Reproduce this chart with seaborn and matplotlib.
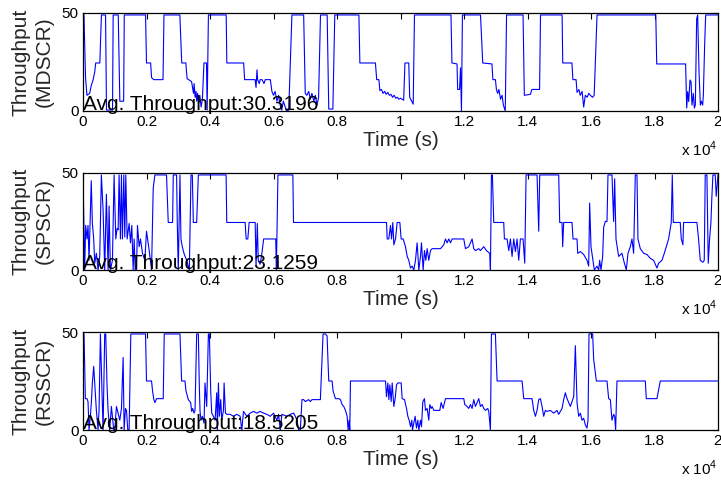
import matplotlib
matplotlib.use("Agg")
import matplotlib.pyplot as plt
import seaborn as sns
import pandas as pd

# Throughput traces (time in seconds, throughput values)
mdscr_t = [0, 30, 80, 125, 210, 260, 320, 370, 400, 530, 580, 710, 740, 930, 950,
           1110, 1160, 1280, 1300, 1970, 2000, 2130, 2160, 2230, 2520, 2550, 3050,
           3110, 3240, 3260, 3280, 3420, 3450, 3480, 3500, 3530, 3560, 3580, 3610,
           3640, 3680, 3720, 3760, 3810, 3890, 3910, 3950, 4510, 4530, 5060, 5090,
           5420, 5450, 5480, 5500, 5550, 5580, 5640, 5700, 5740, 5900, 5950, 6000,
           6050, 6110, 6160, 6210, 6260, 6310, 6370, 6420, 6480, 6580, 6950, 7000,
           7050, 7110, 7160, 7210, 7270, 7320, 7370, 7420, 7480, 7690, 7740, 7870,
           7930, 8690, 8720, 9210, 9250, 9320, 9350, 9400, 9450, 9500, 9550, 9600,
           9650, 9700, 9750, 9800, 9850, 9900, 9950, 10000, 10100, 10140, 10260,
           10290, 10320, 10400, 10440, 11590, 11620, 11780, 11800, 11860, 11890,
           11920, 11950, 12520, 12590, 12880, 12910, 12990, 13020, 13060, 13100,
           13150, 13200, 13240, 13300, 13340, 13860, 13900, 14090, 14140, 14380,
           14410, 15090, 15110, 15400, 15430, 15530, 15560, 15620, 15660, 15720,
           15770, 15820, 15880, 15930, 15980, 16050, 16100, 16190, 18040, 18070,
           18980, 19014, 19045, 19077, 19118, 19150, 19181, 19223, 19255, 19286,
           19328, 19360, 19402, 19444, 19475, 19517, 19538, 19580, 19612, 20000]
mdscr_v = [49, 49, 17, 8, 9, 13, 16, 20, 24.5, 24.5, 49, 49, 0.5, 0.5, 49,
           49, 5, 5, 49, 49, 24.5, 24.5, 17, 16, 16, 49, 49,
           24.5, 24.5, 20, 16.5, 15, 12, 9, 14, 7, 10, 5, 9,
           4, 8, 2, 6, 24.5, 24.5, 0.5, 49, 49, 24.5, 24.5, 16,
           16, 12, 21, 16, 14, 16, 16, 14, 16, 16, 10, 8,
           10, 5, 8, 3, 0.5, 5, 2, 0, 0.5, 49, 49, 9,
           8, 10, 6, 9, 5, 8, 3, 7, 49, 49, 1, 1,
           49, 49, 24.5, 24.5, 16, 16, 10.4, 11, 9, 10, 8.5, 9.5,
           8, 8.5, 7, 8, 6.5, 7, 6, 6.5, 5.5, 24.5, 24.5,
           7, 6, 3.5, 49, 49, 24.5, 24, 11, 11, 22,
           0, 49, 49, 24.5, 24, 16, 16, 11, 9, 11,
           6, 8, 3, 0, 49, 49, 8, 8.5, 11, 11,
           49, 49, 24.5, 24.5, 16, 16, 9.5, 11, 8, 10,
           2, 8, 7, 9, 8, 7, 8, 49, 49, 24,
           24, 1.5, 9.9, 4.8, 15.8, 15, 3, 9, 1.5, 3,
           47, 49, 20, 3, 5, 3, 8, 34, 49, 49]

spscr_t = [0, 53, 84, 126, 158, 190, 260, 295, 337, 369, 421, 474, 527, 579, 632,
           684, 737, 790, 821, 863, 927, 979, 1032, 1074, 1106, 1137, 1179, 1211,
           1242, 1285, 1316, 1348, 1390, 1453, 1495, 1537, 1580, 1611, 1643, 1685,
           1716, 1769, 1811, 1874, 1948, 2000, 2085, 2159, 2211, 2264, 2630, 2685,
           2822, 2843, 2948, 2969, 3001, 3054, 3085, 3127, 3180, 3264, 3349, 3401,
           3443, 3475, 3580, 3633, 4507, 4528, 5107, 5139, 5191, 5233, 5423, 5450,
           5490, 5520, 5580, 5630, 5690, 6070, 6090, 6140, 6610, 6630, 9560, 9580,
           9630, 9685, 9717, 9759, 9790, 9843, 9895, 9979, 10021, 10084, 10157,
           10210, 10262, 10315, 10367, 10419, 10472, 10524, 10577, 10629, 10661,
           10713, 10755, 10797, 10839, 10891, 10944, 10996, 11259, 11364, 11416,
           11468, 11521, 11573, 11626, 11993, 12045, 12150, 12255, 12308, 12360,
           12465, 12517, 12622, 12706, 12811, 12832, 12864, 12895, 12937, 13251,
           13273, 13357, 13409, 13462, 13514, 13567, 13619, 13671, 13724, 13776,
           13860, 13913, 13955, 14301, 14353, 14385, 14983, 15014, 15088, 15108,
           15140, 15402, 15434, 15560, 15581, 15665, 15769, 15874, 15927, 15958,
           16000, 16063, 16105, 16189, 16241, 16273, 16315, 16367, 16399, 16451,
           16504, 16535, 16661, 16713, 16745, 16787, 16871, 16976, 17028, 17112,
           17165, 17238, 17290, 17343, 17395, 17448, 17479, 17553, 17658, 17763,
           17867, 17972, 18077, 18130, 18235, 18308, 18371, 18444, 18528, 18560,
           18591, 18811, 18843, 18895, 18916, 19336, 19388, 19441, 19525, 19567,
           19598, 19651, 19693, 19735, 19777, 19808, 19840, 19913, 19944, 20000]
spscr_v = [49, 0, 23, 16, 23, 5, 46, 24, 16, 3.5, 8.6, 0, 7, 49, 31,
           0, 39, 0, 33, 0, 5, 49, 16, 21.5, 20.7, 49, 16, 49,
           16, 49, 17, 49, 16, 24, 14, 23, 0, 16, 0, 0,
           23, 12, 16, 8.6, 5, 20, 10, 0, 42, 49, 49, 24.5,
           24.5, 49, 49, 24.5, 0, 49, 16, 12, 8.6, 5, 0, 49,
           49, 24.5, 24.5, 49, 49, 24.5, 24.5, 16, 16, 24.5, 24.5, 2,
           24, 5, 3, 8, 16, 16, 0, 49, 49, 24.5, 24.5, 16,
           16, 23, 16, 24.5, 13, 16, 24.5, 24.5, 16, 16, 12,
           7, 5, 1, 2, 0, 5, 14, 0, 7, 14,
           0, 10, 5, 11, 5, 10, 11, 11, 13, 16,
           14, 16, 14, 16, 16, 11, 12, 16, 11, 10,
           11, 10, 12, 10, 8.6, 0, 49, 49, 24.5, 24.5,
           16, 16, 10, 16, 7, 16, 9.5, 16, 5, 16,
           16, 3.5, 49, 49, 20, 49, 49, 24.5, 24.5, 12,
           24.5, 24.5, 16, 16, 8.6, 9.5, 8, 5, 2, 34.5,
           12, 5, 0, 2, 0, 5, 0, 7, 22, 25,
           25, 49, 49, 25, 47, 16, 7, 8.6, 5, 0,
           8.6, 12, 16, 8.6, 49, 49, 16, 11, 8.6, 8,
           6, 5, 1, 3.5, 5, 8.6, 12, 16, 24.5, 49,
           24.5, 24.5, 16, 13, 24.5, 24.5, 16, 5, 4, 5,
           49, 49, 3.5, 16, 24.5, 38, 49, 49, 38, 49]

rsscr_t = [0, 32, 74, 126, 158, 190, 232, 263, 295, 337, 369, 421, 474, 505, 548,
           590, 632, 684, 716, 758, 790, 842, 895, 927, 969, 1000, 1053, 1106,
           1158, 1211, 1264, 1295, 1337, 1369, 1411, 1453, 1506, 1969, 2000, 2159,
           2190, 2232, 2264, 2317, 2527, 2559, 3054, 3106, 3212, 3243, 3317, 3391,
           3422, 3454, 3496, 3528, 3580, 3633, 3664, 3686, 3717, 3759, 3812, 3843,
           3896, 3949, 3980, 4022, 4054, 4107, 4160, 4212, 4233, 4265, 4296, 4338,
           4370, 4423, 4444, 4486, 4528, 4633, 4739, 4844, 4949, 5002, 5054, 5160,
           5265, 5370, 5476, 5581, 5686, 5792, 5897, 6002, 6107, 6160, 6213, 6265,
           6423, 6529, 6634, 6687, 6739, 6792, 6845, 6897, 6950, 7002, 7108, 7160,
           7213, 7476, 7561, 7634, 7687, 7740, 7845, 7876, 7950, 8055, 8108, 8161,
           8213, 8266, 8319, 8350, 8382, 8403, 8424, 9528, 9559, 9601, 9633, 9664,
           9706, 9738, 9790, 9832, 9874, 9916, 10021, 10052, 10126, 10189, 10231,
           10273, 10315, 10356, 10377, 10419, 10461, 10503, 10545, 10577, 10629,
           10661, 10703, 10755, 10787, 10839, 10891, 10923, 10965, 10996, 11049,
           11238, 11280, 11343, 11416, 11993, 12024, 12098, 12150, 12203, 12255,
           12308, 12360, 12413, 12465, 12517, 12570, 12622, 12675, 12748, 12780,
           12832, 12864, 12989, 13042, 13829, 13881, 14143, 14196, 14248, 14301,
           14353, 14406, 14458, 14510, 14563, 14615, 14720, 14825, 14930, 14983,
           15035, 15088, 15140, 15192, 15245, 15297, 15350, 15455, 15507, 15560,
           15612, 15665, 15717, 15769, 15822, 15874, 15906, 15937, 16052, 16084,
           16136, 16168, 16504, 16556, 16609, 16661, 16713, 16745, 16776, 16818,
           17710, 17742, 18077, 18182, 20000]
rsscr_v = [49, 49, 16, 16, 14.5, 0, 7, 14, 24, 32.5, 24, 10, 0, 10, 49,
           24, 0, 49, 49, 22, 10, 0, 12, 7, 0, 0, 12, 8.6,
           5, 11, 37, 0, 11, 10, 0, 0, 49, 49, 25, 25,
           20, 15.5, 14, 16, 16, 49, 49, 25, 25, 20, 15.5, 14,
           9.5, 11, 8.6, 10, 49, 49, 22, 9.5, 5, 7, 3.5, 24,
           12, 49, 49, 20, 8.6, 7, 5, 19, 0, 24, 7, 15.5,
           5, 10, 24, 8.6, 8, 8, 7, 8, 7, 0, 9.5, 7,
           8.6, 9.5, 8.6, 9.5, 8.6, 8, 7, 8.6, 5, 8, 0, 8,
           7, 8, 8.6, 7, 5, 0, 0, 15.5, 15.5, 14.5, 15.5, 14.5,
           15.5, 15.5, 49, 49, 48, 25, 25, 20, 16, 16, 15.5, 13,
           12, 10, 7, 0, 5, 0, 25, 25, 17, 24, 15.5, 23,
           14.5, 24, 12, 16, 23, 24, 24, 16, 15.5, 11, 7,
           5, 1.7, 5, 0, 3.5, 7, 1, 5, 0, 5,
           1.7, 14.5, 16, 10, 11, 5, 13, 11, 12, 10,
           10, 14, 11, 16, 16, 13, 12, 11, 13, 11,
           15.5, 12, 14, 16, 12, 13, 11, 10, 11, 9.5,
           0, 49, 49, 25, 25, 16, 16, 10, 7, 10,
           15.5, 16, 12, 7, 10, 9.5, 10, 8.6, 10, 8,
           9.5, 11, 15.5, 19, 16, 14, 12, 17, 43, 14,
           7, 8.6, 5, 6, 2.6, 1, 5, 49, 49, 36,
           29, 25, 25, 16, 15.5, 5, 8, 7, 0, 25,
           25, 16, 16, 25, 25]

series = [
    ("MDSCR", mdscr_t, mdscr_v, "30.3196"),
    ("SPSCR", spscr_t, spscr_v, "23.1259"),
    ("RSSCR", rsscr_t, rsscr_v, "18.5205"),
]

xticks = [0, 2000, 4000, 6000, 8000, 10000, 12000, 14000, 16000, 18000, 20000]
xticklabels = ["0", "0.2", "0.4", "0.6", "0.8", "1", "1.2", "1.4", "1.6", "1.8", "2"]
yticks = [0, 50]

sns.set_theme(style="white")
plt.rcParams["font.family"] = ["Liberation Sans", "DejaVu Sans"]
plt.rcParams["mathtext.fontset"] = "custom"
plt.rcParams["mathtext.rm"] = "Liberation Sans"

fig = plt.figure(figsize=(7.21, 4.82), dpi=100)
rects = [
    [83 / 721, 1 - 111 / 482, 635 / 721, 98 / 482],
    [83 / 721, 1 - 270 / 482, 635 / 721, 97 / 482],
    [83 / 721, 1 - 430 / 482, 635 / 721, 98 / 482],
]

for rect, (name, t, v, avg) in zip(rects, series):
    ax = fig.add_axes(rect)
    df = pd.DataFrame({"Time": t, "Throughput": v})
    sns.lineplot(data=df, x="Time", y="Throughput", ax=ax, color="#0000ff",
                 linewidth=0.8, estimator=None, sort=False)
    ax.set_xlim(0, 20000)
    ax.set_ylim(0, 50)
    ax.set_xticks(xticks)
    ax.set_xticklabels(xticklabels)
    ax.set_yticks(yticks)
    ax.tick_params(direction="in", length=4, width=0.8, top=True, right=True,
                   labelsize=11, colors="black", pad=3)
    for s in ax.spines.values():
        s.set_color("black")
        s.set_linewidth(0.9)
    ax.set_xlabel("Time (s)", fontsize=15, labelpad=1)
    ax.set_ylabel(f"Throughput\n({name})", fontsize=15, labelpad=6,
                  linespacing=1.25)
    ax.text(0, 0.5, f"Avg. Throughput:{avg}", fontsize=15, ha="left",
            va="baseline", color="black")
    # exponent of the shared time axis, placed under the last tick label
    ax.text(1.0, -0.46, r"x 10$^{4}$", transform=ax.transAxes, ha="right",
            va="baseline", fontsize=11, color="black")

fig.savefig("out.png", dpi=100)
